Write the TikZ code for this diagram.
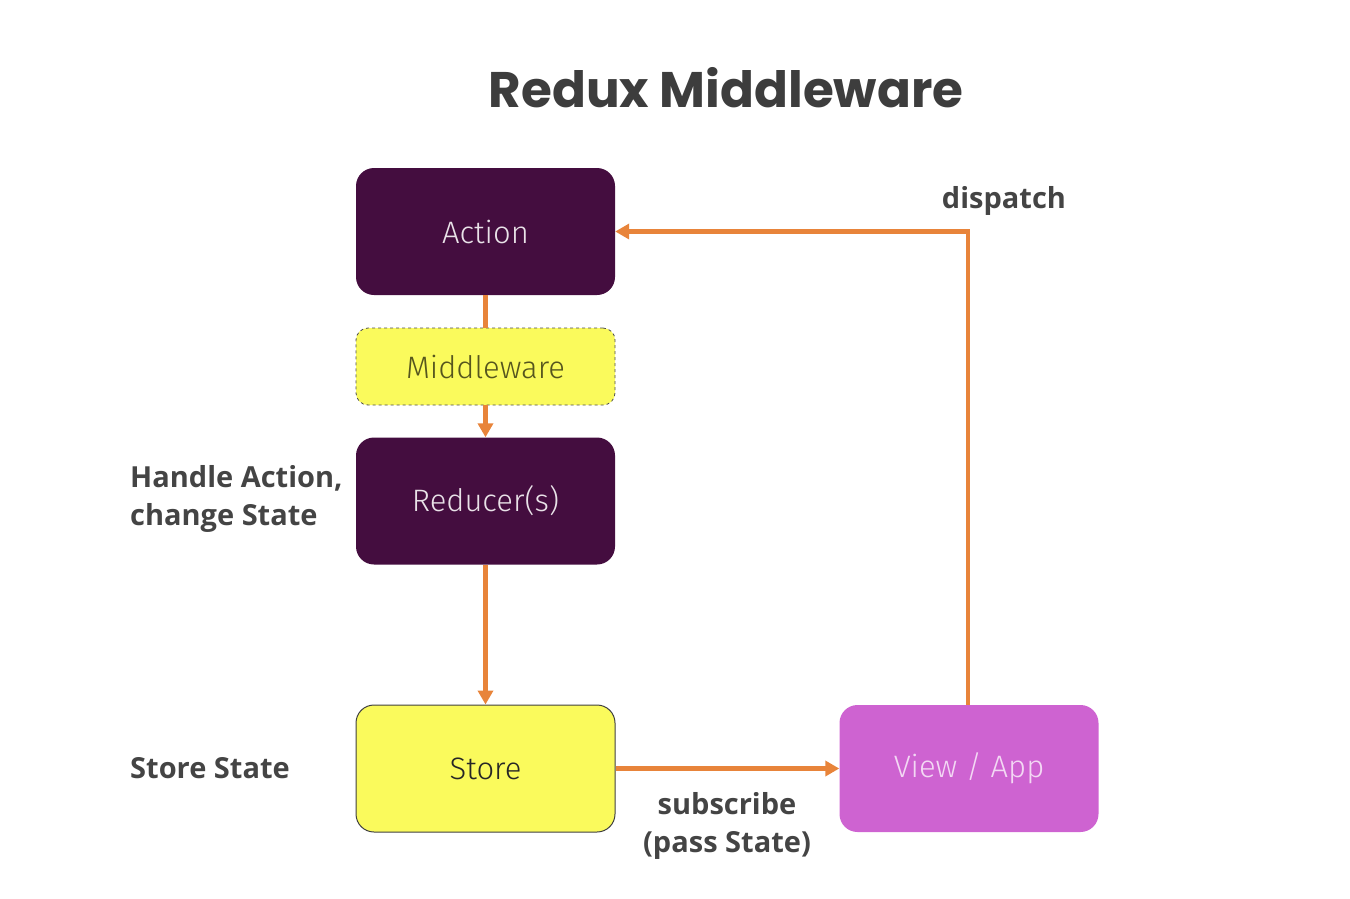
\documentclass[tikz,border=0pt]{standalone}
\usepackage{fontspec}
\setmainfont{Open Sans}
\newfontfamily\titlefont{Poppins}
\newfontfamily\lightfont{Fira Sans Light}
\usetikzlibrary{arrows.meta}
\definecolor{dpurple}{HTML}{440D3F}
\definecolor{ylw}{HTML}{FAFA5C}
\definecolor{pink}{HTML}{CE63D1}
\definecolor{orng}{HTML}{E8843A}
\definecolor{lbl}{HTML}{444444}
\definecolor{olive}{HTML}{55551E}
\begin{document}
\begin{tikzpicture}[x=1pt,y=-1pt,
  box/.style={rounded corners=18pt, minimum width=259pt, minimum height=127pt, inner sep=0pt, font=\lightfont\fontsize{31}{36}\selectfont},
  darkbox/.style={box, fill=dpurple, text=white!88!dpurple},
  conn/.style={draw=orng, line width=4.5pt},
  arr/.style={conn, -{Triangle[length=14pt,width=15pt]}},
  lab/.style={text=lbl, font=\fontsize{29}{38}\selectfont\bfseries, inner sep=0pt},
]
\useasboundingbox (0,0) rectangle (1350,898);
\node[font=\titlefont\fontsize{50}{58}\selectfont\bfseries, text=lbl!90!black] (title) at (726,88) {Redux Middleware};
\node[darkbox] (action) at (485.5,231.5) {Action};
\node[box, minimum height=77pt, rounded corners=12pt, fill=ylw, draw=black!70, dashed, line width=0.8pt, text=olive] (mw) at (485.5,366.5) {Middleware};
\node[darkbox] (red) at (485.5,501) {Reducer(s)};
\node[box, fill=ylw, draw=black!75, line width=1pt, text=black!85] (store) at (485.5,768.5) {Store};
\node[box, fill=pink, text=pink!25!white] (view) at (969,768.5) {View / App};
\draw[conn] (action.south) -- (mw.north);
\draw[arr] (mw.south) -- (red.north);
\draw[arr] (red.south) -- (store.north);
\draw[arr] (store.east) -- (view.west);
\coordinate (corner) at (968,231.5);
\draw[arr] (view.north -| corner) -- (corner) -- (action.east);
\node[lab, anchor=base] (disp) at (1004,208) {dispatch};
\node[lab, anchor=west, align=left] (handle) at (130,499) {Handle Action,\\change State};
\node[lab, anchor=west] (ss) at (130,768) {Store State};
\node[lab, align=center] (sub) at (727,826) {subscribe\\(pass State)};
\end{tikzpicture}
\end{document}
